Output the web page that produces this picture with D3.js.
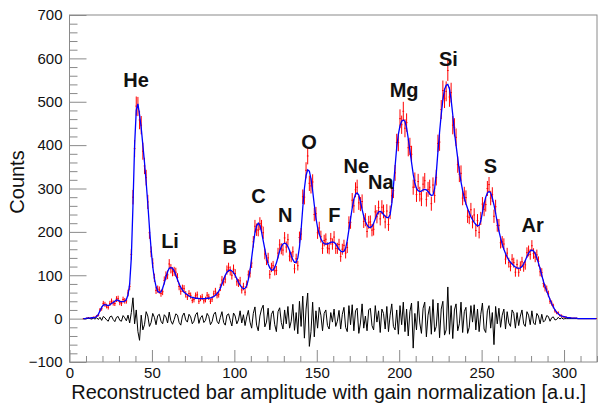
<!DOCTYPE html>
<html><head><meta charset="utf-8">
<script src="https://cdn.jsdelivr.net/npm/d3@7/dist/d3.min.js"></script>
<style>
body{margin:0;background:#fff}
svg{display:block}
text{font-family:"Liberation Sans",Arial,Helvetica,sans-serif;fill:#111}
</style>
</head><body>
<svg id="c" width="598" height="405"></svg>
<script>
// Fit curve (blue), one value per unit bin from 0 to 319
const fitCounts = [
0,0,0,0,0,0,0,0,0,0,
1,1,1,2,2,3,5,10,18,26,
31,32,31,30,32,35,37,40,43,42,
40,39,39,40,44,55,80,140,260,400,
480,495,470,440,400,360,315,265,210,160,
120,92,74,63,60,62,70,82,96,108,
116,118,116,110,100,90,80,72,66,61,
58,55,52,50,49,48,47,47,46,46,
46,46,46,47,47,48,49,51,54,58,
63,70,80,90,100,107,111,112,110,106,
100,92,84,77,72,69,70,76,90,110,
140,170,198,214,220,215,200,180,160,140,
126,117,112,112,118,128,142,156,166,172,
174,172,166,157,146,136,130,130,140,165,
205,255,300,330,343,340,322,295,262,232,
210,195,184,177,173,172,172,174,176,177,
176,172,166,160,156,154,155,162,180,205,
230,255,275,287,290,285,270,252,236,224,
216,211,210,213,220,230,240,246,247,245,
240,236,233,233,240,265,305,350,395,425,
445,455,458,455,440,415,388,360,333,312,
300,295,293,294,297,298,297,293,288,284,
285,300,335,385,430,470,505,528,538,540,
530,505,470,430,400,370,340,315,295,278,
265,254,244,235,228,222,217,214,215,225,
245,265,280,290,293,290,278,262,243,222,
202,186,172,160,150,142,135,130,126,122,
119,117,116,117,120,126,134,143,151,156,
158,156,150,140,128,115,100,86,74,64,
54,44,35,27,20,15,11,8,6,5,
4,3,2,2,1,1,1,1,0,0,
0,0,0,0,0,0,0,0,0,0
];
// Data minus fit for the red histogram, per bin
const dataDeviation = [
0,0,0,0,0,0,0,0,0,0,
0,1,0,-1,1,0,1,-2,2,-3,
4,1,-2,-4,3,5,-1,-5,2,4,
-3,-4,5,1,-3,4,-6,8,20,-8,
10,-6,-12,6,-14,-8,10,4,-12,-6,
8,2,-9,5,6,-4,-8,6,3,-7,
10,-3,-8,-1,7,5,-6,-9,4,8,
-2,-5,6,3,-7,-4,6,8,-6,1,
4,-5,-2,7,3,-8,-4,6,9,-4,
-7,2,9,-5,-9,5,7,-2,-10,8,
4,-7,-2,10,-6,5,-9,3,11,-5,
-12,7,15,-9,-16,4,13,18,-11,-5,
14,-15,6,10,-8,-17,9,14,-5,-14,
12,-7,16,-13,-4,18,-15,8,-18,22,
-10,26,-20,12,32,-28,-16,20,-22,10,
-12,14,5,-15,7,11,-9,-13,8,-5,
12,-10,-4,11,-13,6,14,-11,-16,16,
-8,18,-15,10,13,-18,-6,18,-12,4,
-15,11,13,-9,-14,16,-5,10,-17,12,
7,-13,15,-16,5,18,-10,-14,11,-19,
16,-8,20,-16,12,-21,9,19,-30,7,
-14,21,-6,-18,13,20,-22,5,15,-19,
23,-16,-10,19,-23,12,21,-20,-14,32,
-19,16,-24,11,18,-15,-7,20,-17,9,
14,-18,-11,16,-5,17,-14,12,-16,6,
19,-13,-17,10,16,-12,8,-26,15,-7,
13,-11,5,12,-13,9,-6,-10,11,7,
-12,8,-9,4,11,-7,-10,9,5,-8,
10,-6,-8,7,4,-7,6,-5,-3,4,
3,-4,1,2,-2,-1,2,-1,1,-1,
0,0,0,0,0,0,0,0,0,0,
0,0,0,0,0,0,0,0,0,0
];
// Residuals (black), per bin
const residuals = [
0,0,0,0,0,0,0,0,0,0,
0,1,0,-1,1,-1,2,-2,3,-4,
5,2,-3,-6,4,6,-2,-7,3,5,
-4,-6,7,2,-5,8,-10,14,48,-12,
20,-30,-50,8,-26,-14,16,6,-18,-9,
12,3,-14,7,10,-6,-12,9,4,-10,
15,-5,-13,-2,11,8,-9,-15,6,13,
-3,-8,10,4,-12,-6,9,14,-11,2,
7,-9,-4,12,5,-14,-7,10,15,-6,
-12,3,16,-9,-15,8,11,-4,-17,13,
6,-12,-3,18,-10,9,-16,4,19,-8,
-22,12,27,-15,-28,6,22,31,-19,-8,
24,-26,10,18,-14,-30,16,25,-9,-24,
20,-12,28,-22,-6,33,-27,14,-35,40,
-18,52,-45,22,59,-64,-30,38,-42,18,
-22,26,8,-28,12,20,-16,-24,14,-8,
22,-18,-6,19,-24,10,26,-20,-30,30,
-14,32,-28,18,24,-34,-10,34,-22,6,
-28,20,24,-16,-26,30,-8,18,-32,22,
12,-24,28,-30,8,34,-18,-26,20,-36,
30,-14,38,-30,22,-40,16,36,-68,12,
-26,40,-10,-34,24,38,-42,8,28,-36,
44,-30,-18,36,-44,22,40,-38,-26,73,
-36,30,-46,20,34,-28,-12,38,-32,16,
26,-34,-20,30,-8,32,-26,22,-30,10,
36,-24,-32,18,30,-22,14,-60,28,-12,
24,-20,8,22,-24,16,-10,-18,20,12,
-22,14,-16,6,20,-12,-18,16,8,-14,
18,-10,-14,12,6,-12,10,-8,-4,7,
5,-6,2,4,-3,-2,3,-1,2,-1,
0,0,0,0,0,0,0,0,0,0,
0,0,0,0,0,0,0,0,0,0
];
const firstBin = 8;
const xTickLabels = [0,50,100,150,200,250,300];
const yTickLabels = [-100,0,100,200,300,400,500,600,700];
const elementNames = ["He","Li","B","C","N","O","F","Ne","Na","Mg","Si","S","Ar"];
const elementX = [40.4,61,97.2,114.6,130.8,145.3,160.6,174,188.9,203,229.9,255.3,281];
const elementY = [533,162,150,267,222,392,223,335,300,511,582,336,200];
const xTitle = "Reconstructed bar amplitude with gain normalization [a.u.]";
const yTitle = "Counts";

const svg = d3.select("#c");
const x = d3.scaleLinear().domain([0,320]).range([69.5,597]);
const y = d3.scaleLinear().domain([-100,700]).range([362,15]);
const axisCol = "#8a8a8a";

// Frame
svg.append("rect").attr("x",x(0)).attr("y",y(700)).attr("width",x(320)-x(0)).attr("height",y(-100)-y(700))
  .attr("fill","none").attr("stroke",axisCol).attr("stroke-width",1);

function styleAxis(g){
  g.select(".domain").remove();
  g.selectAll(".tick line").attr("stroke",axisCol);
  g.selectAll(".tick text").attr("fill","#111").style("font-size","15px")
   .style("font-family",'"Liberation Sans",Arial,Helvetica,sans-serif');
}
const xMinor = d3.range(0,321,10).filter(v=>v%50!==0);
const yMinor = d3.range(-100,701,20).filter(v=>v%100!==0);
svg.append("g").attr("transform",`translate(0,${y(-100)})`)
  .call(d3.axisBottom(x).tickValues(xMinor).tickSizeInner(-6).tickSizeOuter(0).tickFormat("")).call(styleAxis);
svg.append("g").attr("transform",`translate(0,${y(-100)})`)
  .call(d3.axisBottom(x).tickValues(xTickLabels).tickSizeInner(-12).tickSizeOuter(0).tickPadding(5).tickFormat(d3.format("d"))).call(styleAxis);
svg.append("g").attr("transform",`translate(${x(0)},0)`)
  .call(d3.axisLeft(y).tickValues(yMinor).tickSizeInner(-8).tickSizeOuter(0).tickFormat("")).call(styleAxis);
svg.append("g").attr("transform",`translate(${x(0)},0)`)
  .call(d3.axisLeft(y).tickValues(yTickLabels).tickSizeInner(-17).tickSizeOuter(0).tickPadding(7).tickFormat(d3.format("d"))).call(styleAxis);

const bins = d3.range(firstBin, fitCounts.length);
const dataCounts = fitCounts.map((f,i)=>f+dataDeviation[i]);

// Data histogram with error bars (red)
const red = svg.append("g").attr("stroke","#ff0000").attr("stroke-width",1).attr("fill","none");
red.selectAll("line.h").data(bins).join("line").attr("class","h")
  .attr("x1",i=>x(i)).attr("x2",i=>x(i+1)).attr("y1",i=>y(dataCounts[i])).attr("y2",i=>y(dataCounts[i]));
red.selectAll("line.v").data(bins.filter(i=>dataCounts[i]>0)).join("line").attr("class","v")
  .attr("x1",i=>x(i+0.5)).attr("x2",i=>x(i+0.5))
  .attr("y1",i=>y(dataCounts[i]-Math.sqrt(dataCounts[i]))).attr("y2",i=>y(dataCounts[i]+Math.sqrt(dataCounts[i])));

// Residuals (black polyline through bin centres)
svg.append("path").datum(bins)
  .attr("d",d3.line().x(i=>x(i+0.5)).y(i=>y(residuals[i])))
  .attr("fill","none").attr("stroke","#000").attr("stroke-width",1);

// Fit (blue)
svg.append("path").datum(bins)
  .attr("d",d3.line().x(i=>x(i+0.5)).y(i=>y(fitCounts[i])))
  .attr("fill","none").attr("stroke","#0000ff").attr("stroke-width",1.3);

// Element labels
svg.selectAll("text.el").data(elementNames).join("text").attr("class","el")
  .attr("x",(d,i)=>x(elementX[i])).attr("y",(d,i)=>y(elementY[i]))
  .attr("text-anchor","middle").style("font-size","20px").style("font-weight","bold")
  .text(d=>d);

// Titles
svg.append("text").attr("x",586).attr("y",399).attr("text-anchor","end").style("font-size","20px").text(xTitle);
svg.append("text").attr("transform","translate(24,182) rotate(-90)").attr("text-anchor","middle").style("font-size","20px").text(yTitle);
</script>
</body></html>
